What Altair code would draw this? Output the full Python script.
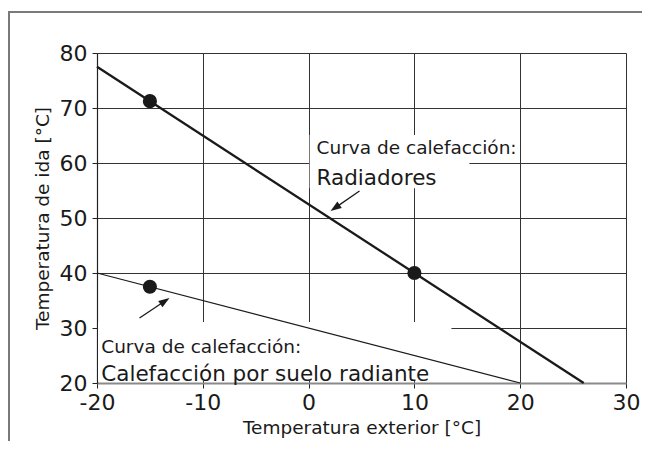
import altair as alt
import pandas as pd

# ---- data ----
rad_x = [-20, 26]
rad_y = [77.5, 20]
floor_x = [-20, 20]
floor_y = [40, 20]
pts_x = [-15, 10, -15]
pts_y = [71.25, 40, 37.5]

x_ticks = [-20, -10, 0, 10, 20, 30]
y_ticks = [20, 30, 40, 50, 60, 70, 80]

label_text = ["Curva de calefacción:", "Radiadores",
              "Curva de calefacción:", "Calefacción por suelo radiante"]
label_x = [0.75, 0.75, -19.6, -19.6]
label_y = [61.6, 56.0, 25.45, 20.36]
label_size = [18.5, 21.5, 18.5, 21.5]

box_x = [0.1, -19.9]
box_x2 = [15.2, 13.5]
box_y = [55.4, 20.4]
box_y2 = [65.1, 31.1]

arrow_id = [1, 1, 2, 2]
arrow_x = [4.81, 2.50, -15.98, -13.58]
arrow_y = [54.91, 51.84, 31.82, 34.9]
head_x = [2.50, -13.58]
head_y = [51.84, 34.9]
head_angle = [235.4, 56.3]

FONT = "DejaVu Sans"
INK = "#1a1a1a"

xscale = alt.Scale(domain=[-20, 30], nice=False, zero=False)
yscale = alt.Scale(domain=[20, 80], nice=False, zero=False)

axis_x = alt.Axis(values=x_ticks, grid=True, gridColor="#333333", gridWidth=1,
                  domainColor="#8a8a8a", domainWidth=2, tickColor="#222222",
                  tickSize=5, tickWidth=1, labelFontSize=22, labelPadding=4,
                  labelFlush=False, labelExpr="datum.value + ''",
                  labelColor=INK, labelFont=FONT, title="Temperatura exterior [°C]",
                  titleFont=FONT, titleFontSize=18.5, titleFontWeight="normal",
                  titleColor=INK, titleY=50, titleBaseline="alphabetic", zindex=0)
axis_y = alt.Axis(values=y_ticks, grid=True, gridColor="#333333", gridWidth=1,
                  domainColor="#222222", domainWidth=1.2, tickColor="#222222",
                  tickSize=5, tickWidth=1, labelFontSize=22, labelPadding=5,
                  labelFlush=False, labelExpr="datum.value + ''",
                  labelColor=INK, labelFont=FONT, title="Temperatura de ida [°C]",
                  titleFont=FONT, titleFontSize=18.5, titleFontWeight="normal",
                  titleColor=INK, titleX=-48.5, titleY=165, titleAlign="center",
                  titleBaseline="alphabetic", zindex=0)

X = alt.X("x:Q", scale=xscale, axis=axis_x)
Y = alt.Y("y:Q", scale=yscale, axis=axis_y)

boxes = alt.Chart(pd.DataFrame({"x": box_x, "x2": box_x2, "y": box_y, "y2": box_y2})).mark_rect(
    color="white").encode(x=X, x2="x2:Q", y=Y, y2="y2:Q")

rad = alt.Chart(pd.DataFrame({"x": rad_x, "y": rad_y})).mark_line(
    color=INK, strokeWidth=2.3).encode(x=X, y=Y)
floor = alt.Chart(pd.DataFrame({"x": floor_x, "y": floor_y})).mark_line(
    color=INK, strokeWidth=1.2).encode(x=X, y=Y)

pts = alt.Chart(pd.DataFrame({"x": pts_x, "y": pts_y})).mark_circle(
    color=INK, opacity=1, size=200).encode(x=X, y=Y)

labels = alt.Chart(pd.DataFrame({"x": label_x, "y": label_y, "t": label_text, "s": label_size})).mark_text(
    align="left", baseline="alphabetic", font=FONT, color=INK).encode(
    x=X, y=Y, text="t:N", size=alt.Size("s:Q", scale=None))

shafts = alt.Chart(pd.DataFrame({"x": arrow_x, "y": arrow_y, "id": arrow_id})).mark_line(
    color=INK, strokeWidth=1.3).encode(x=X, y=Y, detail="id:N")
heads = alt.Chart(pd.DataFrame({"x": head_x, "y": head_y, "a": head_angle})).mark_point(
    shape="M0,-1L0.7,1L-0.7,1Z", filled=True, color=INK, opacity=1, size=121).encode(
    x=X, y=Y, angle=alt.Angle("a:Q", scale=None))

one = alt.Data(values=[{"k": 1}])
border_left = alt.Chart(one).mark_rule(color="#7a7a7a", strokeWidth=2).encode(
    x=alt.value(-88), y=alt.value(-41), y2=alt.value(420))
border_top = alt.Chart(one).mark_rule(color="#7a7a7a", strokeWidth=2).encode(
    x=alt.value(-89), x2=alt.value(600), y=alt.value(-41))

chart = alt.layer(boxes, rad, floor, pts, shafts, heads, labels, border_left, border_top).properties(
    width=529, height=330,
    padding={"left": 89, "top": 45, "right": 16, "bottom": 58},
    autosize=alt.AutoSizeParams(type="none"),
).configure_view(stroke=None).configure(background="white")

chart.save("out.html", embed_options={"renderer": "svg", "actions": False})
